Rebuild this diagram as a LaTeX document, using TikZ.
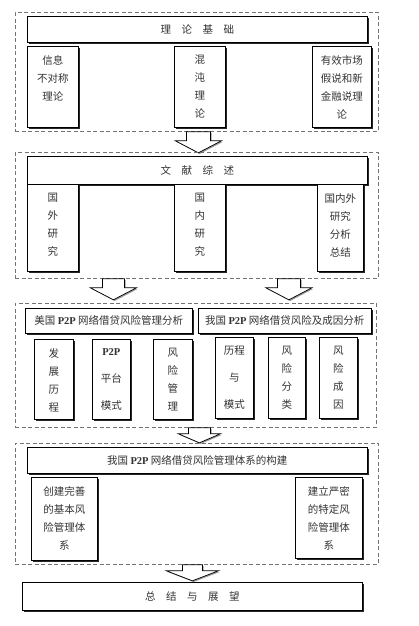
\documentclass[tikz,border=0pt]{standalone}
\usepackage{fontspec}
\setmainfont{Liberation Serif}
\newfontfamily\cjk{Noto Sans CJK SC}
\usetikzlibrary{shadows}
\newcommand\pp{{\rmfamily\bfseries P2P}}
\newcommand\tsp{\hspace{10.5pt}}
\tikzset{
  box/.style={draw=black, line width=0.7pt, fill=white, rectangle, inner sep=0pt,
    general shadow={fill=black!85, shadow xshift=1.5pt, shadow yshift=-1.5pt}},
  txt/.style={font=\cjk\fontsize{10.5}{18}\selectfont, align=center, inner sep=0pt, text=black!80},
  frame/.style={draw=black!55, line width=0.8pt, dash pattern=on 4pt off 2.5pt, rectangle, inner sep=0pt},
  barr/.style={draw=black, line width=0.7pt, fill=white,
    general shadow={fill=black!40, shadow xshift=1.2pt, shadow yshift=-1.2pt}},
}
% name, x1, y1, x2, y2, text
\newcommand\mybox[6]{%
  \node[box, anchor=north west, minimum width={#4-#2}, minimum height={#5-#3}] (#1) at (#2,#3) {};
  \node[txt, anchor=north] (#1t) at ([yshift=-9pt]#1.north) {#6};}
\newcommand\mytitle[6]{%
  \node[box, anchor=north west, minimum width={#4-#2}, minimum height={#5-#3}, txt] (#1) at (#2,#3) {#6};}
\newcommand\myframe[5]{%
  \node[frame, anchor=north west, minimum width={#4-#2}, minimum height={#5-#3}] (#1) at (#2,#3) {};}
% coord, half shaft, shaft len, half head, head len
\newcommand\barrow[5]{%
  \draw[barr] (#1) ++(-#2,0) -- ++(0,#3) -- ++(#2-#4,0) -- ++(#4,#5) -- ++(#4,-#5) -- ++(#2-#4,0) -- ++(0,-#3) -- cycle;}
\begin{document}
\begin{tikzpicture}[x=1pt, y=-1pt]
\useasboundingbox (0,0) rectangle (418,626);
\fill[white] (0,0) rectangle (418,626);

% ---------- frame 1
\myframe{f1}{15}{12}{378}{131}
\mytitle{t1}{27}{16}{367}{42}{理\tsp 论\tsp 基\tsp 础}
\mybox{b1a}{27}{46}{78}{127}{信息\\不对称\\理论}
\mybox{b1b}{174}{46}{225}{127}{混\\沌\\理\\论}
\mybox{b1c}{312}{46}{371}{127}{有效市场\\假说和新\\金融说理\\论}

\coordinate (a1) at ([xshift=1.5pt]f1.south);
\barrow{a1}{12}{9}{23}{12}

% ---------- frame 2
\myframe{f2}{15}{152}{378}{278}
\mytitle{t2}{27}{156}{367}{184}{文\tsp 献\tsp 综\tsp 述}
\mybox{b2a}{27}{184}{78}{271}{国\\外\\研\\究}
\mybox{b2b}{174}{184}{225}{271}{国\\内\\研\\究}
\mybox{b2c}{317}{184}{363}{271}{国内外\\研究\\分析\\总结}

\coordinate (a2a) at ([xshift=-83.5pt]f2.south);
\coordinate (a2b) at ([xshift=92pt]f2.south);
\barrow{a2a}{11}{9}{23}{12}
\barrow{a2b}{11.5}{9}{23}{12}

% ---------- frame 3
\myframe{f3}{15}{303}{376}{427}
\mytitle{t3a}{25}{308}{192}{333}{美国 \pp\ 网络借贷风险管理分析}
\mytitle{t3b}{198}{308}{371}{333}{我国 \pp\ 网络借贷风险及成因分析}
\mybox{b3a}{34}{339}{73}{419}{发\\展\\历\\程}
\mybox{b3b}{92}{339}{130}{419}{\pp\\[9pt]平台\\[9pt]模式}
\mybox{b3c}{153}{339}{192}{419}{风\\险\\管\\理}
\mybox{b3d}{215}{337}{253}{418}{历程\\[9pt]与\\[9pt]模式}
\mybox{b3e}{268}{337}{305}{418}{风\\险\\分\\类}
\mybox{b3f}{319}{337}{357}{418}{风\\险\\成\\因}

\coordinate (a3) at ([xshift=3.5pt]f3.south);
\barrow{a3}{11}{6}{21}{9}

% ---------- frame 4
\myframe{f4}{15}{443}{378}{564}
\mytitle{t4}{27}{447}{367}{473}{我国 \pp\ 网络借贷风险管理体系的构建}
\mybox{b4a}{31}{477}{97}{560}{创建完善\\的基本风\\险管理体\\系}
\mybox{b4b}{295}{477}{362}{558}{建立严密\\的特定风\\险管理体\\系}

\coordinate (a4) at ([xshift=-4.5pt]f4.south);
\barrow{a4}{10}{6}{26}{10}

% ---------- final
\mytitle{t5}{22}{582}{362}{610}{总\tsp 结\tsp 与\tsp 展\tsp 望}
\end{tikzpicture}
\end{document}
